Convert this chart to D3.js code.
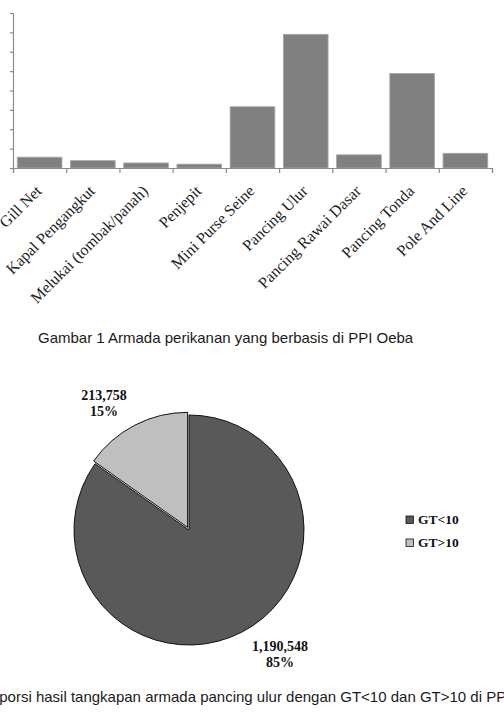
<!DOCTYPE html>
<html>
<head>
<meta charset="utf-8">
<script src="https://cdn.jsdelivr.net/npm/d3@7"></script>
<style>
  body { margin: 0; background: #fff; }
  svg { display: block; }
</style>
</head>
<body>
<script>
// Armada data (bar chart) - units unknown
var gear = ["Gill Net", "Kapal Pengangkut", "Melukai (tombak/panah)", "Penjepit",
            "Mini Purse Seine", "Pancing Ulur", "Pancing Rawai Dasar", "Pancing Tonda", "Pole And Line"];
var fleet = [28, 19, 13, 10, 158, 345, 34, 244, 38];
var yTicks = [0, 50, 100, 150, 200, 250, 300, 350, 400];

// Pie data
var pieNames = ["GT<10", "GT>10"];
var pieValues = [1190548, 213758];
var pieText = [["1,190,548", "85%"], ["213,758", "15%"]];

var captions = ["Gambar 1 Armada perikanan yang berbasis di PPI Oeba",
                "Gambar 2 Proporsi hasil tangkapan armada pancing ulur dengan GT<10 dan GT>10 di PPI Oeba"];

var width = 504, height = 718;
var svg = d3.select("body").append("svg").attr("width", width).attr("height", height);

//---- bar chart
var plotL = 13, plotR = 492, plotT = 13, base = 168;
var axisCol = "#8c8c8c";

var x = d3.scaleBand().domain(gear).range([plotL, plotR]).paddingInner(0.16).paddingOuter(0.08);
var y = d3.scaleLinear().domain([0, 400]).range([base, plotT]);
var xEdges = d3.scaleLinear().domain([0, gear.length]).range([plotL, plotR]);

var bars = svg.append("g");
bars.selectAll("rect").data(fleet).enter().append("rect")
    .attr("x", function(d, i){ return x(gear[i]); })
    .attr("y", function(d){ return y(d); })
    .attr("width", x.bandwidth())
    .attr("height", function(d){ return base - y(d); })
    .attr("fill", "#808080")
    .attr("stroke", "#a8a8a8")
    .attr("stroke-width", 0.8);

var yAxis = svg.append("g").attr("transform", "translate(" + plotL + ",0)")
    .call(d3.axisLeft(y).tickValues(yTicks).tickSize(3).tickFormat(""));
var xAxis = svg.append("g").attr("transform", "translate(0," + base + ")")
    .call(d3.axisBottom(xEdges).ticks(gear.length).tickSize(5).tickFormat("").tickSizeOuter(5));
svg.selectAll(".domain, .tick line").attr("stroke", axisCol).attr("stroke-width", 1.2);

svg.append("g").selectAll("text").data(gear).enter().append("text")
    .attr("transform", function(d){
      return "translate(" + (x(d) + x.bandwidth() / 2 + 3) + "," + (base + 24) + ") rotate(-45)";
    })
    .attr("text-anchor", "end")
    .style("font-family", "'Liberation Serif', 'Times New Roman', serif")
    .style("font-size", "16px")
    .attr("fill", "#222")
    .text(function(d){ return d; });

svg.append("text").attr("x", 38).attr("y", 343)
    .style("font-family", "'Liberation Sans', Arial, sans-serif")
    .style("font-size", "15px").attr("fill", "#1a1a1a")
    .text(captions[0]);

//---- pie chart
var cx = 189, cy = 530, R = 115;
var colors = ["#595959", "#bfbfbf"];
var explode = [0, 3];
var labelPos = [{a: 144, r: 155}, {a: -34, r: 152}];

var pie = d3.pie().sort(null);
var arcs = pie(pieValues);
var arc = d3.arc().innerRadius(0).outerRadius(R);

var pg = svg.append("g").attr("transform", "translate(" + cx + "," + cy + ")");
pg.selectAll("path").data(arcs).enter().append("path")
    .attr("transform", function(d, i){
      var m = (d.startAngle + d.endAngle) / 2;
      return "translate(" + (Math.sin(m) * explode[i]) + "," + (-Math.cos(m) * explode[i]) + ")";
    })
    .attr("d", arc)
    .attr("fill", function(d, i){ return colors[i]; })
    .attr("stroke", "#111")
    .attr("stroke-width", 1);

var lab = pg.selectAll("text.lbl").data(arcs).enter().append("text")
    .attr("class", "lbl")
    .attr("text-anchor", "middle")
    .style("font-family", "'Liberation Serif', 'Times New Roman', serif")
    .style("font-size", "14px").style("font-weight", "bold").attr("fill", "#111")
    .attr("transform", function(d, i){
      var p = d3.pointRadial(labelPos[i].a * Math.PI / 180, labelPos[i].r);
      return "translate(" + p[0] + "," + (p[1] - 4) + ")";
    });
lab.each(function(d, i){
  var t = d3.select(this);
  t.append("tspan").attr("x", 0).attr("dy", 0).text(pieText[i][0]);
  t.append("tspan").attr("x", 0).attr("dy", 16).text(pieText[i][1]);
});

// legend
var lg = svg.append("g").attr("transform", "translate(406,516)");
var li = lg.selectAll("g").data(pieNames).enter().append("g")
    .attr("transform", function(d, i){ return "translate(0," + (i * 23) + ")"; });
li.append("rect").attr("width", 7.5).attr("height", 7.5)
    .attr("fill", function(d, i){ return colors[i]; })
    .attr("stroke", "#111").attr("stroke-width", 0.8);
li.append("text").attr("x", 12).attr("y", 8)
    .style("font-family", "'Liberation Serif', 'Times New Roman', serif")
    .style("font-size", "13.5px").style("font-weight", "bold").attr("fill", "#111")
    .text(function(d){ return d; });

svg.append("text").attr("x", -95).attr("y", 702)
    .style("font-family", "'Liberation Sans', Arial, sans-serif")
    .style("font-size", "15px").attr("fill", "#1a1a1a")
    .text(captions[1]);
</script>
</body>
</html>
